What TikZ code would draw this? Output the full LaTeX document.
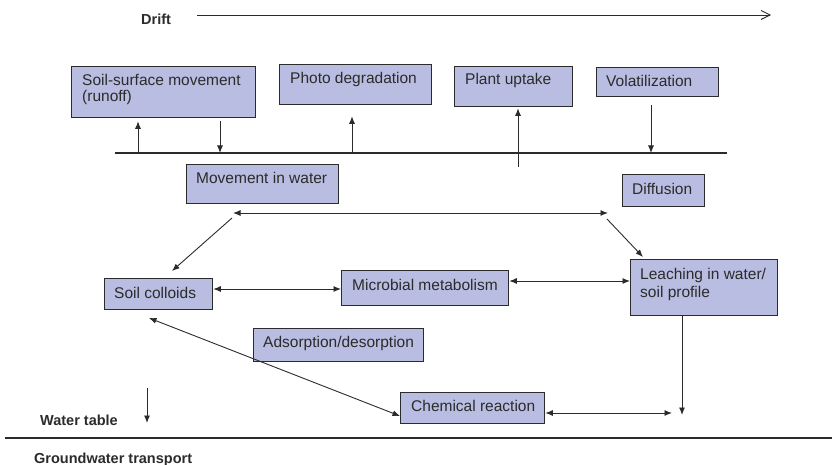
\documentclass[tikz,border=0pt]{standalone}
\usepackage{fontspec}
\setmainfont{Liberation Sans}
\usetikzlibrary{arrows.meta,calc}
\definecolor{boxfill}{HTML}{B9BDE1}
\definecolor{ink}{HTML}{2B2B2B}
\tikzset{
  box/.style={draw=ink, line width=1.3pt, fill=boxfill, anchor=north west, inner sep=0pt},
  btxt/.style={anchor=base west, inner sep=0pt, font=\fontsize{15.5}{17}\selectfont, text=ink},
  lbl/.style={font=\fontsize{14.5}{17}\selectfont\bfseries, text=ink, inner sep=0pt},
  arr/.style={draw=ink, line width=0.9pt, -{Latex[length=7.5pt,width=6pt]}},
  darr/.style={draw=ink, line width=0.9pt, {Latex[length=7.5pt,width=6pt]}-{Latex[length=7.5pt,width=6pt]}},
  hline/.style={draw=ink, line width=1.3pt},
}
\begin{document}
\begin{tikzpicture}[x=1pt,y=-1pt]
\useasboundingbox (0,0) rectangle (832,465);
% Drift
\node[lbl, anchor=base west] (drift) at (141,25) {Drift};
\coordinate (d1) at (197,15);
\coordinate (d2) at (771,15);
\draw[draw=ink, line width=0.9pt, -{Straight Barb[length=9pt,width=9pt]}] (d1) -- (d2);
% top boxes
\node[box, minimum width=184pt, minimum height=51pt] (ss) at (71,66) {};
\node[btxt] (sst) at (82,86) {Soil-surface movement};
\node[btxt] (sst2) at (82,102) {(runoff)};
\node[box, minimum width=152pt, minimum height=40pt] (pd) at (279,64) {};
\node[btxt] (pdt) at (290,84) {Photo degradation};
\node[box, minimum width=118pt, minimum height=40pt] (pu) at (454,66) {};
\node[btxt] (put) at (465,85) {Plant uptake};
\node[box, minimum width=122pt, minimum height=29pt] (vo) at (596,67) {};
\node[btxt] (vot) at (606,87) {Volatilization};
% surface line
\coordinate (sl) at (115,153);
\coordinate (sr) at (727,153);
\draw[hline] (sl) -- (sr);
\coordinate (a1) at (138,153);
\coordinate (a2) at (220,153);
\coordinate (a3) at (352,153);
\coordinate (a4) at (518,167);
\coordinate (a5) at (651,153);
\draw[arr] (a1) -- ($(a1 |- ss.south)+(0,3)$);
\draw[arr] ($(a2 |- ss.south)+(0,3)$) -- (a2);
\draw[arr] (a3) -- ($(a3 |- pd.south)+(0,11)$);
\draw[arr] (a4) -- ($(a4 |- pu.south)+(0,1)$);
\draw[arr] ($(a5 |- vo.south)+(0,8)$) -- (a5);
% middle
\node[box, minimum width=152pt, minimum height=39pt] (mw) at (186,164) {};
\node[btxt] (mwt) at (196,183) {Movement in water};
\node[box, minimum width=82pt, minimum height=32pt] (df) at (622,174) {};
\node[btxt] (dft) at (632,194) {Diffusion};
\coordinate (h1) at (233,213);
\coordinate (h2) at (608,213);
\draw[darr] (h1) -- (h2);
\coordinate (l1) at (232,218);
\coordinate (l2) at (172,271);
\draw[arr] (l1) -- (l2);
\coordinate (r1) at (607,219);
\coordinate (r2) at (643,257);
\draw[arr] (r1) -- (r2);
% row
\node[box, minimum width=108pt, minimum height=31pt] (sc) at (104,278) {};
\node[btxt] (sct) at (114,298) {Soil colloids};
\node[box, minimum width=167pt, minimum height=35pt] (mm) at (341,270) {};
\node[btxt] (mmt) at (352,290) {Microbial metabolism};
\node[box, minimum width=147pt, minimum height=56pt] (le) at (630,259) {};
\node[btxt] (let) at (640,279) {Leaching in water/};
\node[btxt] (let2) at (640,297) {soil profile};
\draw[darr] (sc.east |- 0,289) -- (mm.west |- 0,289);
\draw[darr] (mm.east |- 0,281) -- (le.west |- 0,281);
% lower
\node[box, minimum width=170pt, minimum height=33pt] (ad) at (253,328) {};
\node[btxt] (adt) at (263,347) {Adsorption/desorption};
\node[box, minimum width=144pt, minimum height=31pt] (cr) at (400,392) {};
\node[btxt] (crt) at (411,411) {Chemical reaction};
\coordinate (cd) at (149,318);
\draw[darr] (cd) -- (cr.west |- 0,416);
\coordinate (ce) at (672,413);
\draw[darr] (cr.east |- 0,413) -- (ce);
\coordinate (ld) at (682,415);
\draw[arr] (le.south -| ld) -- (ld);
% water table
\node[lbl, anchor=base west] (wt) at (40,425) {Water table};
\coordinate (w1) at (147,388);
\coordinate (w2) at (147,423);
\draw[arr] (w1) -- (w2);
\coordinate (b1) at (5,438);
\coordinate (b2) at (832,438);
\draw[hline] (b1) -- (b2);
\node[lbl, anchor=base west] (gw) at (34,463) {Groundwater transport};
\end{tikzpicture}
\end{document}
